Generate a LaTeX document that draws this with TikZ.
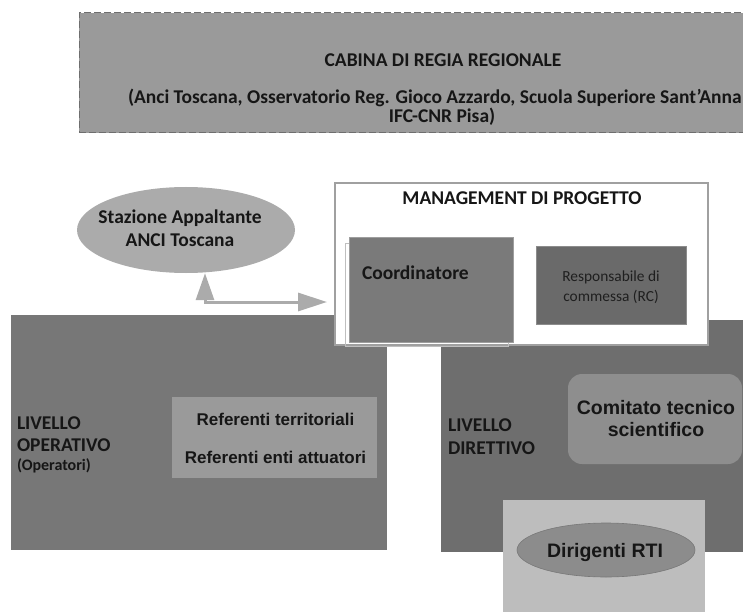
\documentclass[tikz,border=0pt]{standalone}
\usepackage{fontspec}
\setmainfont{Carlito}
\newfontfamily\arialf{Liberation Sans}
\usetikzlibrary{shapes.geometric,arrows.meta}
\definecolor{cTop}{HTML}{9A9A9A}
\definecolor{cDash}{HTML}{6E6E6E}
\definecolor{cEll}{HTML}{ABABAB}
\definecolor{cArrow}{HTML}{ABABAB}
\definecolor{cMgmt}{HTML}{A0A0A0}
\definecolor{cCoord}{HTML}{7A7A7A}
\definecolor{cResp}{HTML}{6A6A6A}
\definecolor{cOper}{HTML}{777777}
\definecolor{cRef}{HTML}{9A9A9A}
\definecolor{cDir}{HTML}{6E6E6E}
\definecolor{cComit}{HTML}{8E8E8E}
\definecolor{cDirig}{HTML}{BDBDBD}
\definecolor{cDirEll}{HTML}{8C8C8C}
\definecolor{cText}{HTML}{161616}
\newcommand{\cfbig}{\fontsize{19.5}{23}\selectfont\bfseries}
\newcommand{\cfmid}{\fontsize{16}{19}\selectfont\bfseries}
\newcommand{\cfsmall}{\fontsize{15.4}{20}\selectfont}
\newcommand{\arbig}{\arialf\fontsize{19.5}{22}\selectfont\bfseries}
\newcommand{\armid}{\arialf\fontsize{17}{20}\selectfont\bfseries}
\tikzset{
  box/.style={rectangle, inner sep=0pt, outer sep=0pt},
  txt/.style={inner sep=0pt, outer sep=0pt, text=cText},
  arrowline/.style={draw=cArrow, line width=3pt,
    {Triangle[width=18pt,length=27pt]}-{Triangle[width=18pt,length=29pt]}},
}
\begin{document}
\begin{tikzpicture}[x=1pt,y=-1pt]
\useasboundingbox (0,0) rectangle (743,612);
\clip (0,0) rectangle (743,612);
\fill[white] (0,0) rectangle (743,612);

% top box
\node[box, fill=cTop, draw=cDash, line width=1pt, dash pattern=on 7pt off 3pt,
  minimum width=671, minimum height=120] (cabina) at (414.5,73) {};
\node[txt, font=\cfbig] (cabtitle) at (443,60) {CABINA DI REGIA REGIONALE};
\node[txt, anchor=west, font=\cfbig] (cabsub) at (128,98) {(Anci Toscana, Osservatorio Reg. Gioco Azzardo, Scuola Superiore Sant’Anna};
\node[txt, font=\cfbig] (cabsub2) at (442,117) {IFC-CNR Pisa)};

% levels
\node[box, fill=cOper, minimum width=376, minimum height=235] (oper) at (199,432.5) {};
\node[box, fill=cDir, minimum width=309, minimum height=232] (dir) at (595.5,436) {};

% stazione appaltante
\node[ellipse, inner sep=0pt, fill=cEll, minimum width=218, minimum height=86] (sa) at (186,230) {};
\node[txt, align=center, font=\cfbig] (satext) at (180,228.5) {Stazione Appaltante\\ANCI Toscana};

% management
\node[box, fill=white, draw=cMgmt, line width=1.2pt, minimum width=373, minimum height=162] (mgmt) at (521.5,264) {};
\node[txt, font=\cfbig] (mgmttitle) at (522,198) {MANAGEMENT DI PROGETTO};
\coordinate (shA) at (345,243);
\coordinate (shB) at (508,346);
\draw[draw=white!75!black, line width=0.8pt] (shA) rectangle (shB);
\node[box, fill=cCoord, draw=white!62!black, line width=0.6pt, minimum width=164, minimum height=105] (coord) at (431,289.5) {};
\node[txt, anchor=west, font=\cfbig] (coordtext) at (362,273) {Coordinatore};
\node[box, fill=cResp, draw=white!55!black, line width=0.6pt, minimum width=150, minimum height=78] (resp) at (611,285) {};
\node[txt, align=center, text=black!88, font=\cfsmall] (resptext) at (611,287) {Responsabile di\\commessa (RC)};

% arrow
\coordinate (corner) at (205,302);
\draw[arrowline, shorten >=8pt] (sa.south -| corner) -- (corner) -- (mgmt.west |- corner);

% operativo texts
\node[txt, anchor=west, font=\cfbig] (op1) at (17,423) {LIVELLO};
\node[txt, anchor=west, font=\cfbig] (op2) at (17,445) {OPERATIVO};
\node[txt, anchor=west, font=\cfmid] (op3) at (17,466) {(Operatori)};
\node[box, fill=cRef, minimum width=205, minimum height=81] (ref) at (274.5,437.5) {};
\node[txt, font=\armid] (ref1) at (275.5,419) {Referenti territoriali};
\node[txt, font=\armid] (ref2) at (275.5,457) {Referenti enti attuatori};

% direttivo texts
\node[txt, anchor=west, font=\cfbig] (dir1) at (448,425) {LIVELLO};
\node[txt, anchor=west, font=\cfbig] (dir2) at (448,448) {DIRETTIVO};
\node[box, fill=cComit, rounded corners=14pt, minimum width=174, minimum height=90] (comit) at (655,419) {};
\node[txt, align=center, font=\arbig] (comittext) at (656,419) {Comitato tecnico\\scientifico};

% dirigenti
\node[box, fill=cDirig, minimum width=202, minimum height=120] (dirig) at (604,560) {};
\node[ellipse, inner sep=0pt, fill=cDirEll, draw=white!47!black, line width=0.6pt, minimum width=178, minimum height=54] (dirigell) at (606,550) {};
\node[txt, font=\arbig] (dirigtext) at (605,552) {Dirigenti RTI};
\end{tikzpicture}
\end{document}
